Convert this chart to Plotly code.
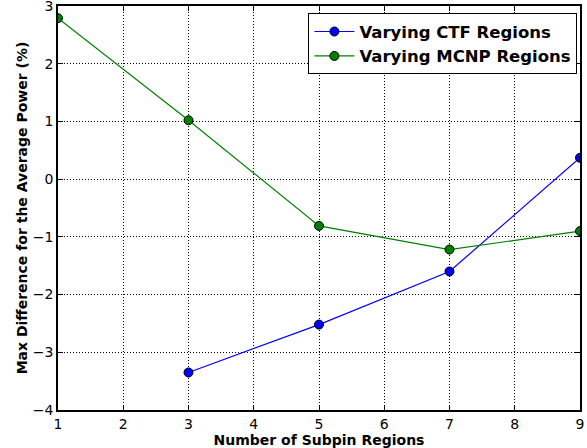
import plotly.graph_objects as go

ctf_x = [3, 5, 7, 9]
ctf_y = [-3.35, -2.52, -1.60, 0.37]
mcnp_x = [1, 3, 5, 7, 9]
mcnp_y = [2.79, 1.02, -0.81, -1.22, -0.90]

x_ticks = [1, 2, 3, 4, 5, 6, 7, 8, 9]
y_ticks = [-4, -3, -2, -1, 0, 1, 2, 3]
y_tick_text = ["\u22124", "\u22123", "\u22122", "\u22121", "0", "1", "2", "3"]

font = "DejaVu Sans"
fig = go.Figure()
fig.add_trace(go.Scatter(x=ctf_x, y=ctf_y, mode="lines+markers", name="<b>Varying CTF Regions</b>",
                         line=dict(color="#0000ff", width=1.2),
                         marker=dict(color="#0000ff", size=9, line=dict(color="black", width=1))))
fig.add_trace(go.Scatter(x=mcnp_x, y=mcnp_y, mode="lines+markers", name="<b>Varying MCNP Regions</b>",
                         line=dict(color="#008000", width=1.2),
                         marker=dict(color="#008000", size=9, line=dict(color="black", width=1))))

axis_common = dict(showline=True, linecolor="black", linewidth=1.5, mirror="allticks",
                   ticks="inside", ticklen=5, tickcolor="black", tickwidth=1,
                   showgrid=True, gridcolor="black", griddash="1px,2px", gridwidth=1,
                   zeroline=False, ticklabeloverflow="allow",
                   tickfont=dict(family=font, size=14, color="black"))

fig.update_xaxes(range=[1, 9.0001], tickvals=x_ticks, ticktext=[str(v) for v in x_ticks],
                 ticklabelstandoff=0,
                 title=dict(text="<b>Number of Subpin Regions</b>", font=dict(family=font, size=14, color="black"), standoff=0),
                 **axis_common)
fig.update_yaxes(range=[-4.0001, 3.0001], tickvals=y_ticks, ticktext=y_tick_text,
                 ticklabelstandoff=0,
                 title=dict(text="<b>Max Difference for the Average Power (%)</b>", font=dict(family=font, size=14, color="black"), standoff=2),
                 **axis_common)

fig.update_layout(
    width=587, height=448,
    margin=dict(l=58, r=7, t=6, b=38, autoexpand=False),
    plot_bgcolor="white", paper_bgcolor="white",
    showlegend=True,
    legend=dict(x=0.995, y=0.982, xanchor="right", yanchor="top",
                bgcolor="white", bordercolor="black", borderwidth=1,
                font=dict(family=font, size=16.5, color="black"),
                itemwidth=40, tracegroupgap=0),
)

fig.write_html("out.html")
